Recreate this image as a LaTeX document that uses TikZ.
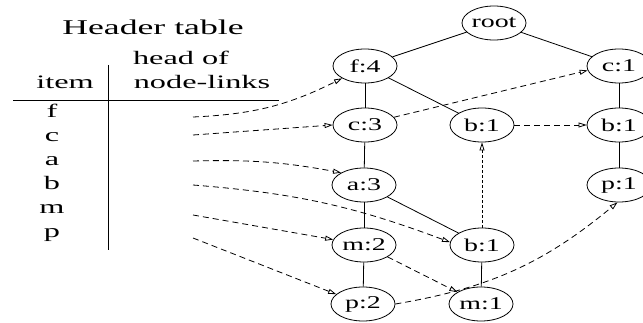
\documentclass[tikz,border=0pt]{standalone}
\usepackage{fontspec}
\setmainfont{Liberation Serif}
\newfontfamily\tabfont[FakeStretch=1.7]{Liberation Serif}
\newfontfamily\nodefont[FakeStretch=1.55]{Liberation Serif}
\usetikzlibrary{arrows.meta,shapes.geometric}

\begin{document}
\begin{tikzpicture}[x=1pt,y=-1pt,line width=0.8pt,
    >={Triangle[open,length=8pt,width=5pt]},
    nd/.style={ellipse,draw,minimum width=64pt,minimum height=34pt,inner sep=0pt,
      font=\nodefont\fontsize{18}{20}\selectfont},
    txt/.style={anchor=base,font=\tabfont\fontsize{19}{22}\selectfont},
    lnk/.style={->,dash pattern=on 6pt off 4pt}]
  \useasboundingbox (0,0) rectangle (643,323);
  % header table
  \node[txt,font=\tabfont\fontsize{21}{24}\selectfont] (title) at (153,35) {Header table};
  \node[txt] (head) at (181,65) {head of};
  \node[txt] (links) at (202,89) {node-links};
  \node[txt] (item) at (65,89) {item};
  \draw (13,100) -- (279,100);
  \draw (108,65) -- (108,250);
  \foreach \it [count=\i] in {f,c,a,b,m,p}
    \node[txt] (i-\it) at (52,{118+24*(\i-1)}) {\it};
  \coordinate (s-f) at (193,117);
  \coordinate (s-c) at (193,135);
  \coordinate (s-a) at (193,161);
  \coordinate (s-b) at (193,185);
  \coordinate (s-m) at (193,215);
  \coordinate (s-p) at (193,238);
  % fp-tree
  \node[nd] (root) at (494,23) {root};
  \node[nd] (f4) at (365,66) {f:4};
  \node[nd] (c1) at (619,66) {c:1};
  \node[nd] (c3) at (365,125) {c:3};
  \node[nd] (b1m) at (482,125) {b:1};
  \node[nd] (b1r) at (619,125) {b:1};
  \node[nd] (a3) at (364,185) {a:3};
  \node[nd] (p1) at (619,185) {p:1};
  \node[nd] (m2) at (364,245) {m:2};
  \node[nd] (b1l) at (482,245) {b:1};
  \node[nd] (p2) at (363,304) {p:2};
  \node[nd] (m1) at (481,304) {m:1};
  \draw (root) -- (f4);
  \draw (root) -- (c1);
  \draw (f4) -- (c3);
  \draw (f4) -- (b1m);
  \draw (c3) -- (a3);
  \draw (a3) -- (m2);
  \draw (a3) -- (b1l);
  \draw (m2) -- (p2);
  \draw (b1l) -- (m1);
  \draw (c1) -- (b1r);
  \draw (b1r) -- (p1);
  % node-links
  \draw[lnk] (s-f) to[bend right=12] (f4.south west);
  \draw[lnk] (s-c) -- (c3.west);
  \draw[lnk] (s-a) to[bend left=6] (a3.north west);
  \draw[lnk] (s-b) to[bend left=8] (b1l.175);
  \draw[lnk] (s-m) -- (m2.170);
  \draw[lnk] (s-p) -- (p2.160);
  \draw[lnk] (c3.15) -- (c1.188);
  \draw[lnk] (b1m) -- (b1r);
  \draw[->,dash pattern=on 3pt off 2pt] (b1l) -- (b1m);
  \draw[lnk] (m2) -- (m1);
  \draw[lnk] (p2.east) to[bend right=15] (p1.265);
\end{tikzpicture}
\end{document}
